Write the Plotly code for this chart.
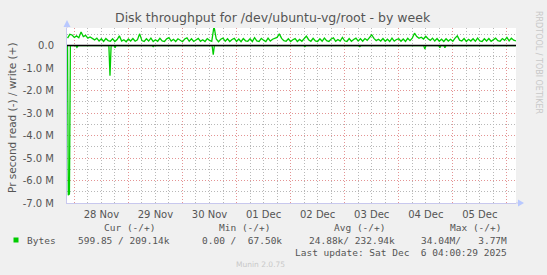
import plotly.graph_objects as go
import pandas as pd

# ---------------- data ----------------
write_start = "2025-11-27 21:00"
# hourly write throughput, in kB/s
write_k = [
    330, 500, 470, 360, 430, 350, 600, 400, 450, 330, 380, 300, 250, 330, 200, 300, 180, 310, 220, 190,
    300, 180, 270, 430, 200, 260, 170, 290, 200, 310, 190, 250, 520, 220, 180, 300, 200, 330, 180, 260,
    190, 320, 210, 180, 300, 350, 200, 280, 180, 300, 220, 170, 290, 340, 190, 300, 180, 260, 320, 190,
    260, 180, 310, 230, 190, 850, 290, 170, 280, 330, 190, 300, 180, 270, 320, 180, 290, 170, 310, 210,
    190, 300, 180, 350, 210, 180, 320, 240, 180, 330, 200, 280, 310, 360, 520, 320, 220, 190, 300, 180,
    260, 310, 180, 270, 190, 300, 420, 260, 190, 320, 210, 180, 300, 190, 330, 220, 180, 290, 340, 190,
    270, 200, 360, 210, 180, 310, 190, 270, 330, 200, 300, 190, 310, 230, 350, 480, 320, 220, 280, 200,
    310, 190, 280, 180, 330, 200, 270, 300, 190, 290, 180, 320, 220, 330, 550, 400, 320, 370, 290, 410,
    300, 230, 330, 200, 310, 190, 280, 180, 300, 200, 280, 190, 330, 430, 240, 200, 310, 180, 280, 200,
    300, 190, 330, 210, 180, 300, 200, 310, 190, 280, 330, 220, 190, 310, 230, 360, 210, 330, 240, 209,
]

# read throughput (MB/s), mostly zero with a few dips
read_times = [
    "2025-11-27 21:00", "2025-11-27 21:20", "2025-11-27 21:50", "2025-11-27 22:15",
    "2025-11-28 00:40", "2025-11-28 01:10", "2025-11-28 01:40",
    "2025-11-28 15:20", "2025-11-28 15:50", "2025-11-28 16:20",
    "2025-11-28 17:40", "2025-11-28 18:05", "2025-11-28 18:30",
    "2025-11-29 10:30", "2025-11-29 11:00", "2025-11-29 11:30",
    "2025-11-30 13:10", "2025-11-30 13:40", "2025-11-30 14:10",
    "2025-12-02 05:50", "2025-12-02 06:20", "2025-12-02 06:50",
    "2025-12-03 06:15", "2025-12-03 06:45", "2025-12-03 07:15",
    "2025-12-04 11:05", "2025-12-04 11:35", "2025-12-04 12:05",
    "2025-12-04 17:45", "2025-12-04 18:15", "2025-12-04 18:45",
    "2025-12-04 20:00", "2025-12-04 20:30", "2025-12-04 21:00",
    "2025-12-06 04:00",
]
read_m = [
    0.0, 6.65, 6.6, 0.0,
    0.0, 0.08, 0.0,
    0.0, 1.34, 0.0,
    0.0, 0.10, 0.0,
    0.0, 0.05, 0.0,
    0.0, 0.41, 0.0,
    0.0, 0.05, 0.0,
    0.0, 0.05, 0.0,
    0.0, 0.16, 0.0,
    0.0, 0.10, 0.0,
    0.0, 0.10, 0.0,
    0.0,
]

y_tick_vals = [0, -1, -2, -3, -4, -5, -6, -7]
y_tick_text = ["0.0", "-1.0 M", "-2.0 M", "-3.0 M", "-4.0 M", "-5.0 M", "-6.0 M", "-7.0 M"]

legend_headers = ["Cur (-/+)", "Min (-/+)", "Avg (-/+)", "Max (-/+)"]
legend_values = ["599.85 / 209.14k", "0.00 /  67.50k", "24.88k/ 232.94k", "34.04M/   3.77M"]
series_name = "Bytes"
last_update = "Last update: Sat Dec  6 04:00:29 2025"

# ---------------- figure ----------------
W, H = 547, 275
PL, PR, PT, PB = 67, 516, 28, 203  # plot area in pixels

def px(x):
    return (x - PL) / (PR - PL)

def py(y):
    return (PB - y) / (PB - PT)

GREEN = "#00cc00"
MGRID = "#e49494"
GRID = "#b8b8b8"
DOT = "1px,2px"
write_times = pd.date_range(write_start, periods=len(write_k), freq="h")

x_range = ["2025-11-27 20:45", "2025-12-06 04:03"]
y_range = [-7.0, 0.78]
minor_x = [t for t in pd.date_range("2025-11-28", "2025-12-06 04:00", freq="6h") if t.hour != 0]
minor_y = [0.5 - k for k in range(8)]

fig = go.Figure()

# read series on the overlay axes (same ranges) so that their grey grid is drawn
fig.add_trace(go.Scatter(
    x=read_times, y=[-v for v in read_m], mode="lines", xaxis="x2", yaxis="y2",
    line=dict(color=GREEN, width=1.3), showlegend=False, hoverinfo="skip"))
fig.add_trace(go.Scatter(
    x=write_times, y=[v / 1000.0 for v in write_k], mode="lines",
    line=dict(color=GREEN, width=1.3), showlegend=False, hoverinfo="skip"))

MONO = "DejaVu Sans Mono"
SANS = "DejaVu Sans"
TXT = "#555555"

fig.update_layout(
    width=W, height=H,
    margin=dict(l=PL, r=W - PR, t=PT, b=H - PB),
    paper_bgcolor="#f0f0f0", plot_bgcolor="#ffffff",
    font=dict(family=SANS, size=10, color=TXT),
    showlegend=False,
    xaxis=dict(
        type="date", range=x_range,
        tick0="2025-11-28", dtick=86400000, tickformat="%d %b",
        ticklabelmode="period", ticks="", ticklabelstandoff=2,
        showgrid=True, gridcolor=MGRID, griddash=DOT, gridwidth=1,
        showline=True, linecolor="#c8c8ee", linewidth=1,
        zeroline=False, tickfont=dict(family=SANS, size=10, color=TXT),
    ),
    yaxis=dict(
        range=y_range,
        tickmode="array", tickvals=y_tick_vals, ticktext=y_tick_text,
        ticks="", ticklabelstandoff=10,
        showgrid=True, gridcolor=MGRID, griddash=DOT, gridwidth=1,
        showline=True, linecolor="#c8c8ee", linewidth=1,
        zeroline=False, tickfont=dict(family=SANS, size=10, color=TXT),
    ),
    xaxis2=dict(
        type="date", range=x_range, overlaying="x", anchor="y2", side="bottom",
        tickmode="array", tickvals=minor_x, showticklabels=False, ticks="",
        showgrid=True, gridcolor=GRID, griddash=DOT, gridwidth=1,
        showline=False, zeroline=False,
    ),
    yaxis2=dict(
        range=y_range, overlaying="y", anchor="x2", side="left",
        tickmode="array", tickvals=minor_y, showticklabels=False, ticks="",
        showgrid=True, gridcolor=GRID, griddash=DOT, gridwidth=1,
        showline=False, zeroline=False,
    ),
)

# zero line (black, above data)
fig.add_shape(type="line", xref="paper", yref="y", x0=0, x1=1, y0=0, y1=0,
              line=dict(color="#000000", width=1.5), layer="above")
# axis arrows
fig.add_shape(type="path", xref="paper", yref="paper",
              path=f"M {px(63.5)},{py(27)} L {px(70.5)},{py(27)} L {px(67)},{py(20)} Z",
              fillcolor="#b8c8ff", line=dict(width=0))
fig.add_shape(type="line", xref="paper", yref="paper",
              x0=0, x1=0, y0=1, y1=py(26), line=dict(color="#c8c8ee", width=1))
fig.add_shape(type="path", xref="paper", yref="paper",
              path=f"M {px(518)},{py(199.5)} L {px(518)},{py(206.5)} L {px(524)},{py(203)} Z",
              fillcolor="#b8c8ff", line=dict(width=0))
fig.add_shape(type="line", xref="paper", yref="paper",
              x0=1, x1=px(518), y0=0, y1=0, line=dict(color="#c8c8ee", width=1))

ann = []
ann.append(dict(text="Disk throughput for /dev/ubuntu-vg/root - by week",
                x=px(273), y=py(18), xanchor="center", yanchor="middle",
                font=dict(family=SANS, size=12.5, color=TXT)))
ann.append(dict(text="Pr second read (-) / write (+)", textangle=-90,
                x=px(12), y=py(118), xanchor="center", yanchor="middle",
                font=dict(family=SANS, size=10.5, color=TXT)))
ann.append(dict(text="RRDTOOL / TOBI OETIKER", textangle=90,
                x=px(539), y=py(62), xanchor="center", yanchor="middle",
                font=dict(family=SANS, size=8, color="#c8c8c8")))

def nb(s):
    return s.replace(" ", "\u00a0")

header_right = [157, 272, 387, 503]
for t, xr in zip(legend_headers, header_right):
    ann.append(dict(text=nb(t), x=px(xr), y=py(227.5), xanchor="right", yanchor="middle",
                    font=dict(family=MONO, size=9.5, color=TXT)))
value_right = [172, 284, 397, 509]
for t, xr in zip(legend_values, value_right):
    ann.append(dict(text=nb(t), x=px(xr), y=py(240), xanchor="right", yanchor="middle",
                    font=dict(family=MONO, size=9.5, color=TXT)))
ann.append(dict(text=series_name, x=px(25), y=py(240), xanchor="left", yanchor="middle",
                font=dict(family=MONO, size=9.5, color=TXT)))
ann.append(dict(text=nb(last_update), x=px(509), y=py(252), xanchor="right", yanchor="middle",
                font=dict(family=MONO, size=9.5, color=TXT)))
ann.append(dict(text="Munin 2.0.75", x=px(260.5), y=py(264), xanchor="center", yanchor="middle",
                font=dict(family=SANS, size=7.5, color="#c8c8c8")))
for a in ann:
    a.update(xref="paper", yref="paper", showarrow=False)
fig.update_layout(annotations=ann)

# legend colour square
fig.add_shape(type="rect", xref="paper", yref="paper",
              x0=px(13.5), x1=px(18.5), y0=py(242.5), y1=py(237.5),
              fillcolor=GREEN, line=dict(width=0))

fig.write_html("out.html")
